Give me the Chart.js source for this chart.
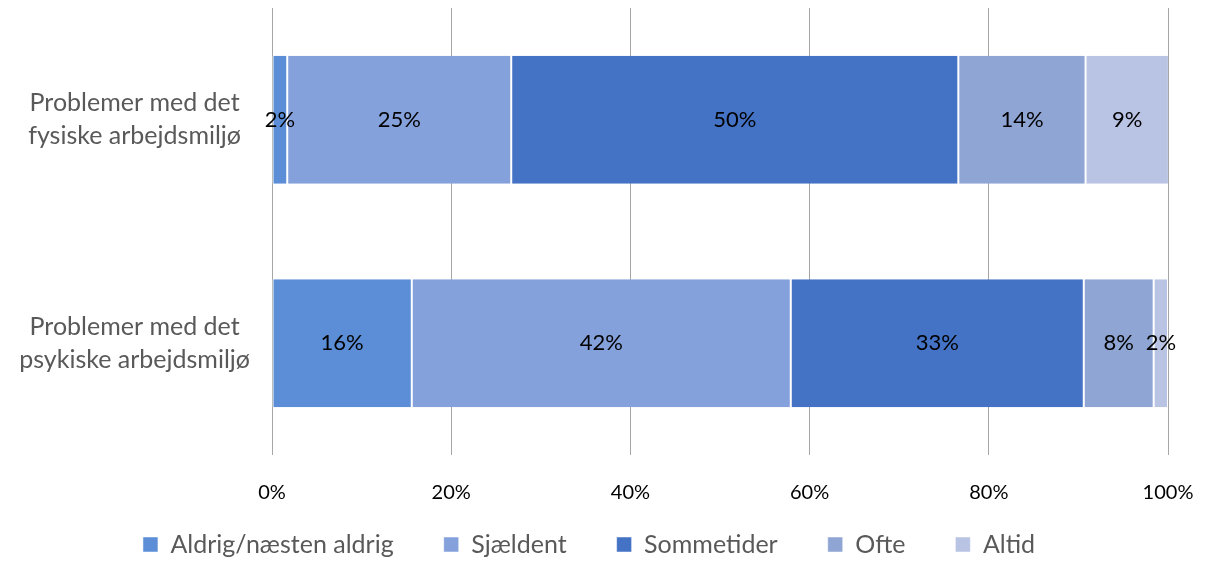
<!DOCTYPE html>
<html>
<head>
<meta charset="utf-8">
<script src="https://cdn.jsdelivr.net/npm/chart.js@4.4.1/dist/chart.umd.min.js"></script>
<style>
    html, body { margin: 0; padding: 0; background: #fff; }
    #wrap { width: 1205px; height: 562px; }
</style>
</head>
<body>
<div id="wrap"><canvas id="chart"></canvas></div>
<script>
// === DATA ===
const categories = [
    ['Problemer med det', 'fysiske arbejdsmiljø'],
    ['Problemer med det', 'psykiske arbejdsmiljø']
];
const seriesNames = ['Aldrig/næsten aldrig', 'Sjældent', 'Sommetider', 'Ofte', 'Altid'];
const aldrig = [1.7, 15.6];
const sjaeldent = [25.0, 42.3];
const sommetider = [49.9, 32.7];
const ofte = [14.2, 7.8];
const altid = [9.3, 1.6];
const tickValues = [0, 20, 40, 60, 80, 100];

const SERIES_COLORS = ['#5b8ed6', '#85a1dc', '#4472c4', '#8fa5d3', '#b9c3e3'];
const FONT = 'Lato';

// Draws the rounded percentage in the middle of each segment
const segmentLabels = {
    id: 'segmentLabels',
    afterDatasetsDraw(chart) {
        const ctx = chart.ctx;
        ctx.save();
        ctx.font = `22px ${FONT}`;
        ctx.fillStyle = '#000';
        ctx.textAlign = 'center';
        ctx.textBaseline = 'middle';
        chart.data.datasets.forEach((ds, di) => {
            chart.getDatasetMeta(di).data.forEach((bar, i) => {
                const mid = (bar.x + bar.base) / 2;
                ctx.fillText(Math.round(ds.data[i]) + '%', mid, bar.y);
            });
        });
        ctx.restore();
    }
};

// Legend padding is used both between items and above them.
// Keep the wide horizontal gaps but give the legend a short box,
// then raise only its top edge so the row sits just under the ticks.
const legendFit = {
    id: 'legendFit',
    afterInit(chart) {
        const origFit = chart.legend.fit;
        chart.legend.fit = function () {
            origFit.call(this);
            this.height = 57;
        };
    },
    afterLayout(chart) {
        chart.legend.top -= 23;
    }
};

const seriesData = [aldrig, sjaeldent, sommetider, ofte, altid];

new Chart(document.getElementById('chart'), {
    type: 'bar',
    data: {
        labels: categories,
        datasets: seriesNames.map((name, i) => ({
            label: name,
            data: seriesData[i],
            backgroundColor: SERIES_COLORS[i],
            borderColor: '#ffffff',
            borderWidth: { left: 1, right: 1 },
            borderSkipped: false,
            categoryPercentage: 0.573,
            barPercentage: 1.0
        }))
    },
    options: {
        indexAxis: 'y',
        responsive: true,
        maintainAspectRatio: false,
        animation: false,
        layout: { padding: { top: 8, left: 10, right: 37, bottom: 0 } },
        scales: {
            x: {
                stacked: true,
                min: 0,
                max: 100,
                afterBuildTicks: (scale) => { scale.ticks = tickValues.map(v => ({ value: v })); },
                afterFit: (scale) => {
                    scale.height = 50;
                    scale.paddingLeft = 0;
                    scale.paddingRight = 0;
                },
                border: { display: false },
                grid: { color: '#a6a6a6', lineWidth: 1, drawTicks: false },
                ticks: {
                    padding: 26,
                    color: '#000',
                    font: { family: FONT, size: 20 },
                    callback: (v) => v + '%'
                }
            },
            y: {
                stacked: true,
                border: { display: false },
                grid: { display: false },
                afterFit: (scale) => {
                    scale.width = 262;
                    scale.paddingTop = 0;
                    scale.paddingBottom = 0;
                },
                ticks: {
                    padding: 14,
                    color: '#595959',
                    font: { family: FONT, size: 25, lineHeight: 1.32 },
                    crossAlign: 'center'
                }
            }
        },
        plugins: {
            legend: {
                position: 'bottom',
                labels: {
                    boxWidth: 15,
                    boxHeight: 15,
                    padding: 50,
                    color: '#595959',
                    font: { family: FONT, size: 25 }
                }
            },
            tooltip: { enabled: false }
        }
    },
    plugins: [segmentLabels, legendFit]
});
</script>
</body>
</html>
